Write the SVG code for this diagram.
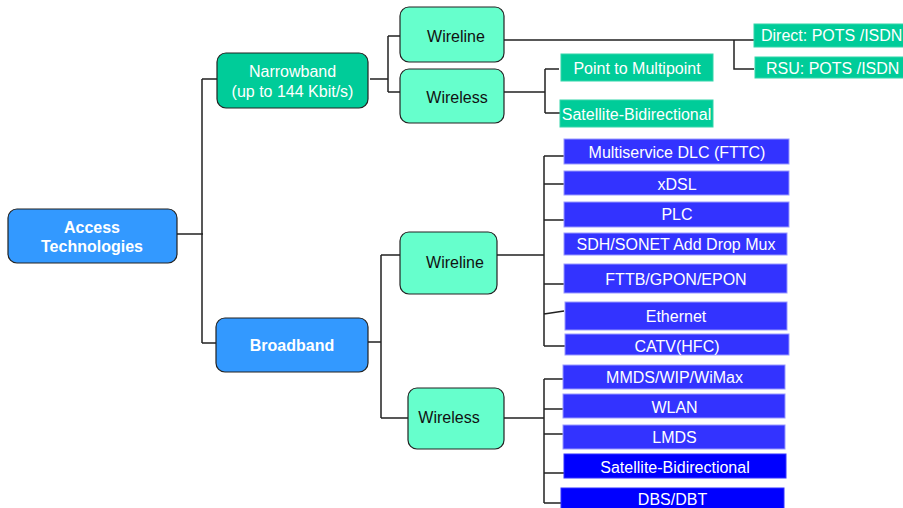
<svg xmlns="http://www.w3.org/2000/svg" width="903" height="508" viewBox="0 0 903 508">
<style>
text{font-family:"Liberation Sans",Arial,sans-serif;font-size:16px;text-anchor:middle}
.root{fill:#3399FF;stroke:#222;stroke-width:1.2}
.nb{fill:#00CC99;stroke:#222;stroke-width:1.2}
.mid{fill:#66FFCC;stroke:#222;stroke-width:1.2}
.gl{fill:#00CC99;stroke:#33D6AA;stroke-width:1}
.bl{fill:#3333FF;stroke:#9999FF;stroke-width:1}
.bd{fill:#0000FF;stroke:#3333FF;stroke-width:1}
.w{fill:#fff}
.b{font-weight:bold}
.k{fill:#111}
.c{fill:none;stroke:#222;stroke-width:1.5}
</style>
<g id="connectors">
<path class="c" d="M177 234H203M202 79V343M202 79H217M202 343H216"/>
<path class="c" d="M370 79H388M388 36V92M388 36H400M388 92H400"/>
<path class="c" d="M504 40H754M734 40V69H754"/>
<path class="c" d="M504 92H545M545 69V113M545 69H559M545 113H560"/>
<path class="c" d="M368 342H381M381 255V418M381 255H400M381 418H408"/>
<path class="c" d="M497 255H544M544 156V346M544 156H564M544 184H564M544 220H564M544 284H564M544 314L564 311M544 346H565"/>
<path class="c" d="M504 418H544M544 379V503M544 379H563M544 409H563M544 434H563M544 473H568M544 503H561"/>
</g>
<g id="access"><rect class="root" x="8" y="209" width="169" height="54" rx="9"/><text class="w b" x="92" y="233">Access</text><text class="w b" x="92" y="252">Technologies</text></g>
<g id="narrowband"><rect class="nb" x="217" y="53" width="151" height="55" rx="9"/><text class="w" x="292.5" y="77">Narrowband</text><text class="w" x="292.5" y="97">(up to 144 Kbit/s)</text></g>
<g id="broadband"><rect class="root" x="216" y="318" width="152" height="54" rx="9"/><text class="w b" x="292" y="351">Broadband</text></g>
<g id="nb-wireline"><rect class="mid" x="400" y="7" width="104" height="55" rx="9"/><text class="k" x="456" y="42">Wireline</text></g>
<g id="nb-wireless"><rect class="mid" x="400" y="69" width="104" height="54" rx="9"/><text class="k" x="457" y="103">Wireless</text></g>
<g id="bb-wireline"><rect class="mid" x="400" y="232" width="97" height="62" rx="9"/><text class="k" x="455" y="268">Wireline</text></g>
<g id="bb-wireless"><rect class="mid" x="408" y="388" width="96" height="61" rx="9"/><text class="k" x="449" y="423">Wireless</text></g>
<g id="direct"><rect class="gl" x="754" y="24" width="155" height="23"/><text class="w" x="761" y="41" style="text-anchor:start">Direct: POTS /ISDN</text></g>
<g id="rsu"><rect class="gl" x="755" y="57" width="155" height="21"/><text class="w" x="766" y="74" style="text-anchor:start">RSU: POTS /ISDN</text></g>
<g id="p2mp"><rect class="gl" x="561" y="54" width="152" height="27"/><text class="w" x="637" y="74">Point to Multipoint</text></g>
<g id="nb-sat"><rect class="gl" x="560" y="100" width="153" height="27"/><text class="w" x="636.5" y="120">Satellite-Bidirectional</text></g>
<g id="dlc"><rect class="bl" x="564" y="139" width="225" height="25"/><text class="w" x="677" y="158">Multiservice DLC (FTTC)</text></g>
<g id="xdsl"><rect class="bl" x="564" y="171" width="225" height="24"/><text class="w" x="677" y="190">xDSL</text></g>
<g id="plc"><rect class="bl" x="564" y="202" width="225" height="25"/><text class="w" x="677" y="220">PLC</text></g>
<g id="sdh"><rect class="bl" x="564" y="233" width="223" height="22"/><text class="w" x="676" y="250">SDH/SONET Add Drop Mux</text></g>
<g id="fttb"><rect class="bl" x="564" y="264" width="223" height="29"/><text class="w" x="676" y="285">FTTB/GPON/EPON</text></g>
<g id="ethernet"><rect class="bl" x="565" y="302" width="222" height="28"/><text class="w" x="676" y="322">Ethernet</text></g>
<g id="catv"><rect class="bl" x="565" y="334" width="224" height="21"/><text class="w" x="677" y="352">CATV(HFC)</text></g>
<g id="mmds"><rect class="bl" x="563" y="365" width="222" height="24"/><text class="w" x="674.5" y="383">MMDS/WIP/WiMax</text></g>
<g id="wlan"><rect class="bl" x="563" y="394" width="222" height="24"/><text class="w" x="674.5" y="413">WLAN</text></g>
<g id="lmds"><rect class="bl" x="563" y="425" width="222" height="24"/><text class="w" x="674.5" y="443">LMDS</text></g>
<g id="bb-sat"><rect class="bd" x="564" y="454" width="222" height="24"/><text class="w" x="675" y="473">Satellite-Bidirectional</text></g>
<g id="dbs"><rect class="bd" x="561" y="488" width="223" height="24"/><text class="w" x="672.5" y="505">DBS/DBT</text></g>
</svg>
